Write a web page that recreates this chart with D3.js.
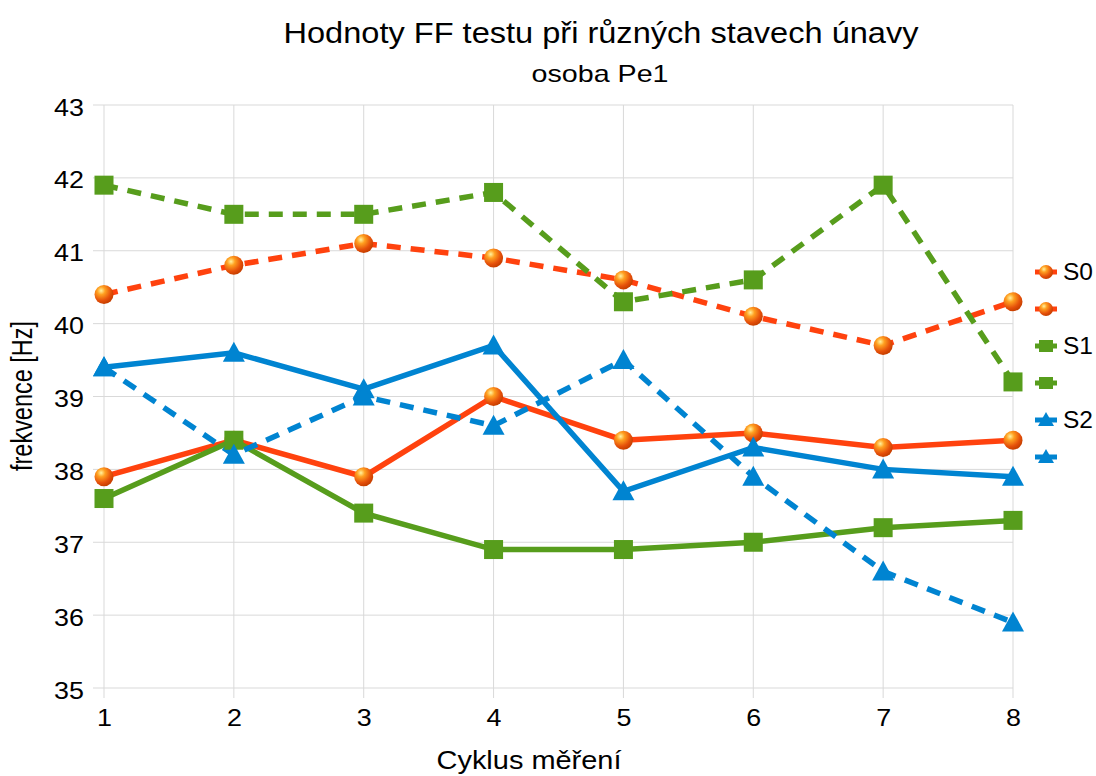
<!DOCTYPE html>
<html>
<head>
<meta charset="utf-8">
<script src="https://cdn.jsdelivr.net/npm/d3@7"></script>
<style>
  body { margin: 0; background: #fff; }
  text { font-family: "Liberation Sans", Arial, sans-serif; }
</style>
</head>
<body>
<div id="chart"></div>
<script>
const cycles = [1, 2, 3, 4, 5, 6, 7, 8];
const yTicks = [35, 36, 37, 38, 39, 40, 41, 42, 43];

const s0Solid = [37.9, 38.4, 37.9, 39.0, 38.4, 38.5, 38.3, 38.4];
const s0Dashed = [40.4, 40.8, 41.1, 40.9, 40.6, 40.1, 39.7, 40.3];
const s1Solid = [37.6, 38.4, 37.4, 36.9, 36.9, 37.0, 37.2, 37.3];
const s1Dashed = [41.9, 41.5, 41.5, 41.8, 40.3, 40.6, 41.9, 39.2];
const s2Solid = [39.4, 39.6, 39.1, 39.7, 37.7, 38.3, 38.0, 37.9];
const s2Dashed = [39.4, 38.2, 39.0, 38.6, 39.5, 37.9, 36.6, 35.9];

const series = [
  { name: "S0", values: s0Solid, color: "#ff420e", marker: "ball", dashed: false },
  { name: "", values: s0Dashed, color: "#ff420e", marker: "ball", dashed: true },
  { name: "S1", values: s1Solid, color: "#579d1c", marker: "square", dashed: false },
  { name: "", values: s1Dashed, color: "#579d1c", marker: "square", dashed: true },
  { name: "S2", values: s2Solid, color: "#0084d1", marker: "triangle", dashed: false },
  { name: "", values: s2Dashed, color: "#0084d1", marker: "triangle", dashed: true }
];

const W = 1096, H = 776;
const margin = { top: 105, right: 83, bottom: 88, left: 104 };
const width = W - margin.left - margin.right;
const height = H - margin.top - margin.bottom;

const svg = d3.select("#chart").append("svg")
  .attr("width", W).attr("height", H);

const defs = svg.append("defs");
const grad = defs.append("radialGradient")
  .attr("id", "ball")
  .attr("cx", "35%").attr("cy", "30%").attr("r", "70%");
grad.append("stop").attr("offset", "0%").attr("stop-color", "#fff2a0");
grad.append("stop").attr("offset", "30%").attr("stop-color", "#ffa020");
grad.append("stop").attr("offset", "75%").attr("stop-color", "#e5500a");
grad.append("stop").attr("offset", "100%").attr("stop-color", "#c84000");

const g = svg.append("g").attr("transform", `translate(${margin.left},${margin.top})`);

const x = d3.scaleLinear().domain([1, 8]).range([0, width]);
const y = d3.scaleLinear().domain([35, 43]).range([height, 0]);

// grid
g.append("g")
  .selectAll("line")
  .data(yTicks)
  .join("line")
  .attr("x1", -11).attr("x2", width)
  .attr("y1", d => y(d)).attr("y2", d => y(d))
  .attr("stroke", "#d9d9d9").attr("stroke-width", 1);

g.append("g")
  .selectAll("line")
  .data(cycles)
  .join("line")
  .attr("x1", d => x(d)).attr("x2", d => x(d))
  .attr("y1", 0).attr("y2", height + 10)
  .attr("stroke", "#d9d9d9").attr("stroke-width", 1);

// tick labels (text is a bit wider than plain Liberation Sans)
const yAxis = g.append("g")
  .call(d3.axisLeft(y).tickValues(yTicks).tickSize(0).tickPadding(18));
yAxis.select(".domain").remove();
yAxis.selectAll("text").attr("font-size", 24).attr("fill", "#000")
  .attr("dy", "0.42em")
  .attr("transform", "scale(1.12,1)")
  .attr("font-family", "Liberation Sans, Arial, sans-serif");

const xAxis = g.append("g")
  .attr("transform", `translate(0,${height})`)
  .call(d3.axisBottom(x).tickValues(cycles).tickFormat(d3.format("d")).tickSize(0).tickPadding(21));
xAxis.select(".domain").remove();
xAxis.selectAll("text").attr("font-size", 24).attr("fill", "#000")
  .attr("transform", "scale(1.12,1)")
  .attr("font-family", "Liberation Sans, Arial, sans-serif");

// lines
const line = d3.line().x((d, i) => x(cycles[i])).y(d => y(d));

series.forEach(s => {
  g.append("path")
    .datum(s.values)
    .attr("d", line)
    .attr("fill", "none")
    .attr("stroke", s.color)
    .attr("stroke-width", 5.5)
    .attr("stroke-dasharray", s.dashed ? "14,10" : null);
});

function drawMarker(sel, s, cx, cy) {
  if (s.marker === "ball") {
    sel.append("circle").attr("cx", cx).attr("cy", cy).attr("r", 9.5)
      .attr("fill", "url(#ball)");
  } else if (s.marker === "square") {
    sel.append("rect").attr("x", cx - 9.5).attr("y", cy - 9.5)
      .attr("width", 19).attr("height", 19).attr("fill", s.color);
  } else {
    sel.append("path")
      .attr("d", `M${cx},${cy - 11}L${cx + 11},${cy + 9}L${cx - 11},${cy + 9}Z`)
      .attr("fill", s.color);
  }
}

series.forEach(s => {
  const mg = g.append("g");
  s.values.forEach((v, i) => drawMarker(mg, s, x(cycles[i]), y(v)));
});

// legend
const legend = svg.append("g").attr("transform", "translate(1035,272)");
series.forEach((s, i) => {
  const row = legend.append("g").attr("transform", `translate(0,${i * 37})`);
  row.append("line").attr("x1", 0).attr("x2", 22).attr("y1", 0).attr("y2", 0)
    .attr("stroke", s.color).attr("stroke-width", 5);
  if (s.marker === "ball") {
    row.append("circle").attr("cx", 11).attr("cy", 0).attr("r", 7).attr("fill", "url(#ball)");
  } else if (s.marker === "square") {
    row.append("rect").attr("x", 4).attr("y", -6).attr("width", 14).attr("height", 12).attr("fill", s.color);
  } else {
    row.append("path").attr("d", "M11,-8L19,6L3,6Z").attr("fill", s.color);
  }
  row.append("text").attr("x", 28).attr("y", 8).attr("font-size", 24)
    .attr("textLength", s.name ? 30 : null).attr("lengthAdjust", "spacingAndGlyphs")
    .text(s.name);
});

// titles
svg.append("text").attr("x", 601).attr("y", 43).attr("text-anchor", "middle")
  .attr("font-size", 30)
  .attr("textLength", 635).attr("lengthAdjust", "spacingAndGlyphs")
  .text("Hodnoty FF testu při různých stavech únavy");
svg.append("text").attr("x", 600).attr("y", 82).attr("text-anchor", "middle")
  .attr("font-size", 24)
  .attr("textLength", 137).attr("lengthAdjust", "spacingAndGlyphs")
  .text("osoba Pe1");
svg.append("text").attr("x", 529).attr("y", 769).attr("text-anchor", "middle")
  .attr("font-size", 25)
  .attr("textLength", 185).attr("lengthAdjust", "spacingAndGlyphs")
  .text("Cyklus měření");
svg.append("text")
  .attr("transform", "translate(32,396) scale(1.15,1) rotate(-90)")
  .attr("text-anchor", "middle")
  .attr("font-size", 25)
  .attr("textLength", 150).attr("lengthAdjust", "spacingAndGlyphs")
  .text("frekvence [Hz]");
</script>
</body>
</html>
